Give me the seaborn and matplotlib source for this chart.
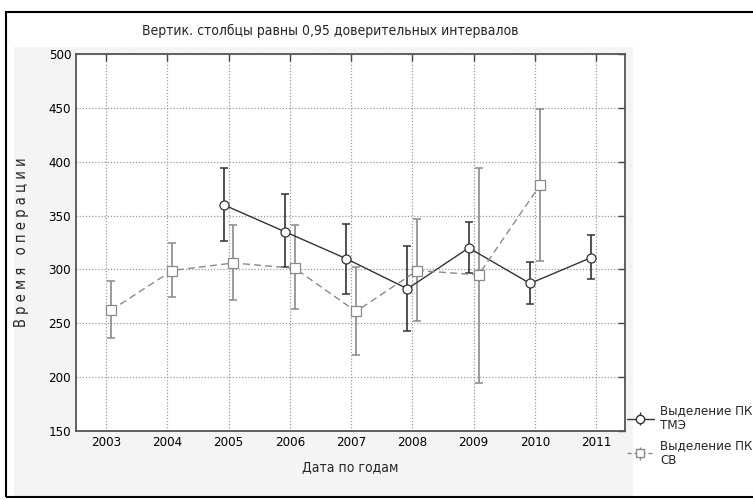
import matplotlib
matplotlib.use("Agg")
import pandas as pd
import matplotlib.pyplot as plt
import seaborn as sns
from matplotlib.patches import Rectangle

# data
years_tme = [2005, 2006, 2007, 2008, 2009, 2010, 2011]
mean_tme = [360, 335, 310, 282, 320, 287, 311]
low_tme = [326, 302, 277, 243, 297, 268, 291]
high_tme = [394, 370, 342, 322, 344, 307, 332]

years_sv = [2003, 2004, 2005, 2006, 2007, 2008, 2009, 2010]
mean_sv = [262, 299, 306, 301, 261, 299, 295, 378]
low_sv = [236, 274, 272, 263, 221, 252, 195, 308]
high_sv = [289, 325, 341, 341, 302, 347, 394, 449]

year_ticks = list(range(2003, 2012))
y_ticks = [150, 200, 250, 300, 350, 400, 450, 500]

label_tme = "Выделение ПК\nТМЭ"
label_sv = "Выделение ПК\nСВ"

sns.set_style("white")
plt.rcParams["font.family"] = ["DejaVu Sans"]
plt.rcParams["font.stretch"] = "condensed"

df_tme = pd.DataFrame({"year": years_tme, "mean": mean_tme, "low": low_tme, "high": high_tme})
df_sv = pd.DataFrame({"year": years_sv, "mean": mean_sv, "low": low_sv, "high": high_sv})
# small horizontal shift so the two groups don't overlap
df_tme["x"] = df_tme["year"] - 0.08
df_sv["x"] = df_sv["year"] + 0.08

fig = plt.figure(figsize=(7.53, 5.0), dpi=100)
fig.patch.set_facecolor("white")
# light gray panel behind the axes and the outer frame
fig.patches.append(Rectangle((14 / 753, 1 - 497 / 500), 619 / 753, (497 - 47) / 500,
                             transform=fig.transFigure, facecolor="#f4f4f4",
                             edgecolor="none", zorder=-5))
fig.patches.append(Rectangle((6 / 753, 3 / 500), 760 / 753, 485 / 500,
                             transform=fig.transFigure, facecolor="none",
                             edgecolor="black", linewidth=1.5, zorder=5))

ax = fig.add_axes([76 / 753, 1 - 431 / 500, (625 - 76) / 753, (431 - 54) / 500])
ax.set_facecolor("white")

c_tme = "#333333"
c_sv = "#8a8a8a"

sns.lineplot(data=df_tme, x="x", y="mean", ax=ax, color=c_tme, linewidth=1.0,
             marker="o", markersize=6.5, markerfacecolor="white",
             markeredgecolor=c_tme, markeredgewidth=0.9, zorder=4)
sns.lineplot(data=df_sv, x="x", y="mean", ax=ax, color=c_sv, linewidth=1.0,
             linestyle=(0, (5, 3)), marker="s", markersize=6.5,
             markerfacecolor="white", markeredgecolor=c_sv,
             markeredgewidth=0.9, zorder=4)

ax.errorbar(df_tme["x"], df_tme["mean"],
            yerr=[df_tme["mean"] - df_tme["low"], df_tme["high"] - df_tme["mean"]],
            fmt="none", ecolor=c_tme, elinewidth=1.2, capsize=3, capthick=1.1, zorder=3)
ax.errorbar(df_sv["x"], df_sv["mean"],
            yerr=[df_sv["mean"] - df_sv["low"], df_sv["high"] - df_sv["mean"]],
            fmt="none", ecolor=c_sv, elinewidth=1.2, capsize=3, capthick=1.1, zorder=3)

ax.set_xlim(2002.51, 2011.47)
ax.set_ylim(150, 500)
ax.set_xticks(year_ticks)
ax.set_yticks(y_ticks)
ax.tick_params(direction="in", length=5, width=1, colors="#444",
               labelcolor="black", labelsize=9.5, top=True, right=True)
ax.grid(True, linestyle=(0, (1, 1.5)), color="#9a9a9a", linewidth=0.9)
for s in ax.spines.values():
    s.set_color("#555555")
    s.set_linewidth(1.3)

ax.set_xlabel("Дата по годам", fontsize=10, labelpad=8)
ax.set_ylabel("В р е м я   о п е р а ц и и", fontsize=10.5, labelpad=14)
fig.text(330 / 753, 1 - 31 / 500, "Вертик. столбцы равны 0,95 доверительных интервалов",
         ha="center", va="center", fontsize=10)

# legend entries: line + marker + error bar
h1 = ax.errorbar([], [], yerr=[], color=c_tme, marker="o", markerfacecolor="white",
                 markersize=6, capsize=6, linewidth=1)
h2 = ax.errorbar([], [], yerr=[], color=c_sv, marker="s", markerfacecolor="white",
                 markersize=6, capsize=6, linewidth=1, linestyle=(0, (3, 2)))
fig.legend([h1, h2], [label_tme, label_sv], loc="lower left",
           bbox_to_anchor=(622 / 753, 1 - 472 / 500), frameon=False, fontsize=9.5,
           handlelength=2.0, handletextpad=0.5, labelspacing=0.5, borderaxespad=0)

fig.savefig("out.png", dpi=100)
